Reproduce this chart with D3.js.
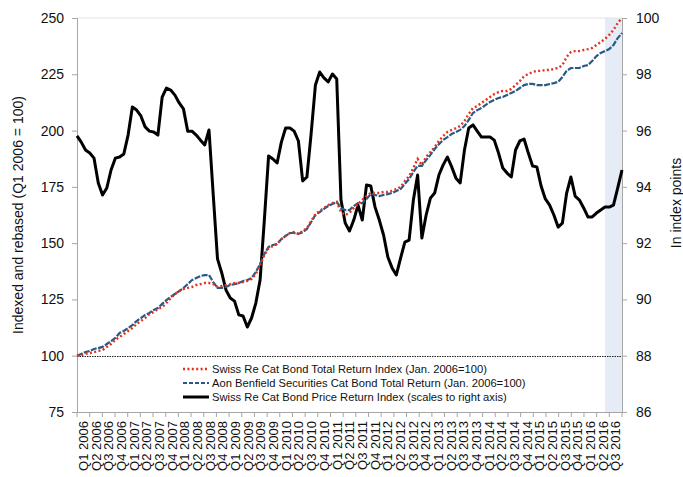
<!DOCTYPE html>
<html>
<head>
<meta charset="utf-8">
<script src="https://cdn.jsdelivr.net/npm/d3@7"></script>
<style>
  html, body { margin: 0; padding: 0; background: #fff; }
  svg { display: block; font-family: "Liberation Sans", Arial, sans-serif; }
</style>
</head>
<body>
<svg id="chart" width="683" height="477"></svg>
<script>
// ---- Data ----
const quarters = [
  "Q1 2006","Q2 2006","Q3 2006","Q4 2006","Q1 2007","Q2 2007","Q3 2007","Q4 2007",
  "Q1 2008","Q2 2008","Q3 2008","Q4 2008","Q1 2009","Q2 2009","Q3 2009","Q4 2009",
  "Q1 2010","Q2 2010","Q3 2010","Q4 2010","Q1 2011","Q2 2011","Q3 2011","Q4 2011",
  "Q1 2012","Q2 2012","Q3 2012","Q4 2012","Q1 2013","Q2 2013","Q3 2013","Q4 2013",
  "Q1 2014","Q2 2014","Q3 2014","Q4 2014","Q1 2015","Q2 2015","Q3 2015","Q4 2015",
  "Q1 2016","Q2 2016","Q3 2016"
];
// monthly observations, Jan 2006 .. Sep 2016 (3 per quarter)
const months = quarters.flatMap(q => ["M1","M2","M3"].map(m => q + " " + m));

const swissReTotalReturn = [
  100.0,100.3,100.8,101.2,101.6,102.1,102.5,103.9,105.2,107.0,108.3,109.6,
  111.0,112.3,114.1,115.4,116.7,118.5,119.4,120.7,121.6,123.4,125.6,127.4,
  128.7,129.6,130.1,130.5,131.4,131.8,132.3,132.3,131.8,130.5,131.0,131.4,
  131.8,132.3,132.3,132.7,133.2,134.1,136.3,140.3,144.7,147.8,148.7,149.6,
  151.8,153.2,154.5,154.9,154.1,155.4,156.7,159.8,162.9,164.3,165.6,166.9,
  167.8,168.3,163.8,162.5,163.4,165.6,167.4,169.2,170.9,172.3,172.3,172.3,
  172.7,172.7,173.2,174.0,174.9,177.6,179.8,183.4,187.4,184.7,188.3,190.5,
  192.7,195.4,197.6,199.4,200.3,201.1,202.0,204.3,207.4,210.0,210.9,212.3,
  213.6,214.9,216.2,217.1,217.6,217.6,218.5,220.2,222.0,224.2,225.1,226.0,
  226.5,226.5,226.9,226.9,227.4,227.8,229.1,232.7,234.9,235.3,235.3,235.8,
  236.2,236.7,238.0,239.3,240.7,242.5,244.7,247.8,250.0
];
const aonTotalReturn = [
  100.0,100.8,101.6,102.1,103.0,103.4,103.9,105.2,106.5,107.9,110.1,111.0,
  112.3,113.6,115.4,116.7,118.1,119.0,120.3,121.2,123.0,124.7,126.1,127.4,
  128.7,130.1,131.8,133.6,134.5,135.4,135.8,135.8,132.7,130.1,130.1,130.5,
  131.4,131.8,132.3,133.2,133.6,134.5,137.2,140.7,145.2,148.3,149.2,149.6,
  151.8,153.2,154.5,154.5,154.1,154.9,156.3,159.4,162.5,163.8,165.2,166.5,
  167.4,168.3,165.6,164.7,164.7,166.5,167.8,167.8,169.6,171.8,171.4,170.9,
  171.4,171.8,172.3,173.2,174.0,176.3,178.5,181.6,184.3,184.3,186.9,189.2,
  191.8,194.0,195.8,197.1,198.5,199.4,200.3,202.0,204.7,207.8,209.1,210.0,
  211.4,212.7,213.6,214.5,214.9,215.8,216.7,217.6,218.9,220.2,220.7,220.7,
  220.2,220.2,220.2,220.7,221.1,221.6,223.8,226.5,227.8,227.8,227.8,228.7,
  229.1,230.9,233.1,234.5,235.3,236.2,238.0,241.1,243.3
];
const swissRePriceReturn = [
  95.81,95.59,95.31,95.20,95.02,94.14,93.71,93.96,94.60,95.02,95.06,95.17,
  95.84,96.84,96.73,96.52,96.13,95.98,95.95,95.84,97.19,97.51,97.44,97.26,
  96.98,96.77,95.98,95.98,95.84,95.66,95.49,96.02,93.71,91.44,90.94,90.33,
  90.05,89.94,89.45,89.41,89.02,89.34,89.87,90.69,92.82,95.10,94.99,94.85,
  95.59,96.09,96.09,95.98,95.63,94.21,94.35,95.91,97.62,98.08,97.87,97.73,
  98.01,97.83,93.53,92.71,92.43,92.82,93.35,92.82,94.07,94.03,93.28,92.82,
  92.29,91.51,91.12,90.87,91.47,92.04,92.11,93.53,94.42,92.18,93.00,93.60,
  93.78,94.42,94.78,95.06,94.71,94.31,94.14,95.31,96.09,96.20,95.98,95.77,
  95.77,95.77,95.66,95.20,94.67,94.49,94.35,95.31,95.63,95.70,95.20,94.74,
  94.71,94.03,93.57,93.35,93.00,92.57,92.71,93.78,94.35,93.67,93.53,93.25,
  92.93,92.93,93.07,93.18,93.28,93.28,93.35,93.96,94.60
];

const leftTicks = [75, 100, 125, 150, 175, 200, 225, 250];
const rightTicks = [86, 88, 90, 92, 94, 96, 98, 100];
const shadeFromMonth = "Q2 2016 M2"; // shaded forecast/recent period

const seriesNames = [
  "Swiss Re Cat Bond Total Return Index (Jan. 2006=100)",
  "Aon Benfield Securities Cat Bond Total Return (Jan. 2006=100)",
  "Swiss Re Cat Bond Price Return Index (scales to right axis)"
];
const leftTitle = "Indexed and rebased (Q1 2006 = 100)";
const rightTitle = "In index points";

// ---- Layout ----
const svg = d3.select("#chart");
const M = { left: 77, right: 622, top: 18, bottom: 412 };
const axisColor = "#a6a6a6";
const font = '"Liberation Sans", Arial, sans-serif';

const xBand = d3.scaleBand().domain(quarters).range([M.left, M.right]).padding(0);
const xMonth = d3.scalePoint().domain(months).range([M.left, M.right]);
const yL = d3.scaleLinear().domain([75, 250]).range([M.bottom, M.top]);
const yR = d3.scaleLinear().domain([86, 100]).range([M.bottom, M.top]);

// shaded region
svg.append("rect")
  .attr("x", xMonth(shadeFromMonth))
  .attr("y", M.top)
  .attr("width", M.right - xMonth(shadeFromMonth))
  .attr("height", M.bottom - M.top)
  .attr("fill", "#e5ecf6");

// top border line (faint)
svg.append("line")
  .attr("x1", M.left).attr("x2", M.right)
  .attr("y1", M.top).attr("y2", M.top)
  .attr("stroke", "#e3e3e3").attr("stroke-width", 1);

// 100 reference line
svg.append("line")
  .attr("x1", M.left).attr("x2", M.right)
  .attr("y1", Math.round(yL(100)) + 0.5).attr("y2", Math.round(yL(100)) + 0.5)
  .attr("stroke", "#222").attr("stroke-width", 1)
  .attr("stroke-dasharray", "1.5,1");

// Left axis
const gL = svg.append("g").attr("transform", `translate(${M.left},0)`)
  .call(d3.axisLeft(yL).tickValues(leftTicks).tickSize(5).tickPadding(8));
gL.selectAll("path, line").attr("stroke", axisColor);
gL.selectAll("text").attr("font-size", 14).attr("font-family", font).attr("fill", "#111");

// Right axis
const gR = svg.append("g").attr("transform", `translate(${M.right},0)`)
  .call(d3.axisRight(yR).tickValues(rightTicks).tickSize(5).tickPadding(9));
gR.selectAll("path, line").attr("stroke", axisColor);
gR.selectAll("text").attr("font-size", 14).attr("font-family", font).attr("fill", "#111");

// Bottom axis: line + boundary ticks + rotated labels
const gB = svg.append("g").attr("transform", `translate(0,${M.bottom})`)
  .call(d3.axisBottom(xBand).tickSize(0).tickPadding(0));
gB.select(".domain").attr("stroke", axisColor);
gB.selectAll(".tick text")
  .attr("font-size", 13).attr("font-family", font).attr("fill", "#111")
  .attr("text-anchor", "end")
  .attr("transform", "translate(0,9) rotate(-90)")
  .attr("x", 0).attr("y", 0).attr("dy", "0.36em");
const bounds = quarters.map(q => xBand(q)).concat([xBand.range()[1]]);
gB.selectAll("line.bt").data(bounds).enter().append("line")
  .attr("class", "bt")
  .attr("x1", d => d).attr("x2", d => d)
  .attr("y1", 0).attr("y2", 5)
  .attr("stroke", axisColor);

// Lines
const lineL = d3.line().x((d, i) => xMonth(months[i])).y(d => yL(d));
const lineR = d3.line().x((d, i) => xMonth(months[i])).y(d => yR(d));

svg.append("path").datum(swissRePriceReturn)
  .attr("d", lineR).attr("fill", "none")
  .attr("stroke", "#000").attr("stroke-width", 3)
  .attr("stroke-linejoin", "round");

svg.append("path").datum(aonTotalReturn)
  .attr("d", lineL).attr("fill", "none")
  .attr("stroke", "#2a5985").attr("stroke-width", 2.2)
  .attr("stroke-dasharray", "6,1.5");

svg.append("path").datum(swissReTotalReturn)
  .attr("d", lineL).attr("fill", "none")
  .attr("stroke", "#e3311b").attr("stroke-width", 2.4)
  .attr("stroke-dasharray", "2,2.4");

// Legend
const legend = svg.append("g");
const legStyles = [
  { color: "#e3311b", w: 2.4, dash: "2,2.4" },
  { color: "#2a5985", w: 2.2, dash: "4,2" },
  { color: "#000", w: 3, dash: null }
];
const legY = [369, 383, 397];
seriesNames.forEach((name, i) => {
  legend.append("line")
    .attr("x1", 183).attr("x2", 209)
    .attr("y1", legY[i]).attr("y2", legY[i])
    .attr("stroke", legStyles[i].color)
    .attr("stroke-width", legStyles[i].w)
    .attr("stroke-dasharray", legStyles[i].dash);
  legend.append("text")
    .attr("x", 212).attr("y", legY[i]).attr("dy", "0.35em")
    .attr("font-size", 11.2).attr("font-family", font).attr("fill", "#111")
    .text(name);
});

// Axis titles
svg.append("text")
  .attr("transform", `translate(18,${(M.top + M.bottom) / 2}) rotate(-90)`)
  .attr("text-anchor", "middle").attr("dy", "0.35em")
  .attr("font-size", 14).attr("font-family", font).attr("fill", "#111")
  .text(leftTitle);
svg.append("text")
  .attr("transform", `translate(676,203) rotate(-90)`)
  .attr("text-anchor", "middle").attr("dy", "0.35em")
  .attr("font-size", 14).attr("font-family", font).attr("fill", "#111")
  .text(rightTitle);
</script>
</body>
</html>
